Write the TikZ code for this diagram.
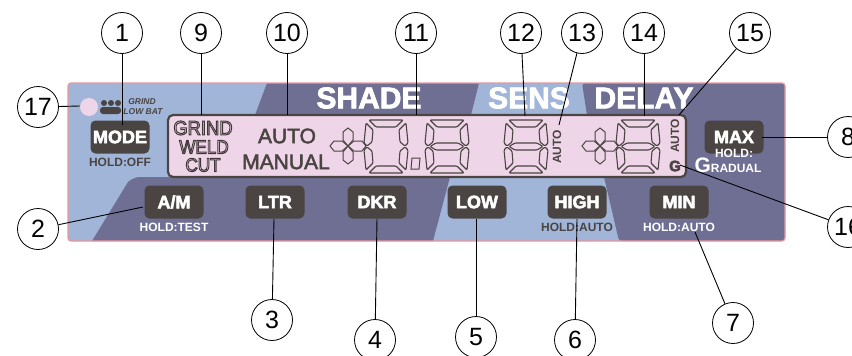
\documentclass[tikz,border=0pt]{standalone}
\usepackage{fontspec}
\setmainfont{Liberation Sans}
\definecolor{panelblue}{HTML}{A1B5D8}
\definecolor{paneldark}{HTML}{6F6F93}
\definecolor{lcdpink}{HTML}{EFD5E8}
\definecolor{keydark}{HTML}{4A4442}
\definecolor{rimpink}{HTML}{E9979C}
\newcommand{\fsize}[1]{\fontsize{#1}{#1}\selectfont}
\newcommand{\outl}[2]{\special{pdf:code 1 Tr #1 w 0.25 0.22 0.22 RG}#2\special{pdf:code 0 Tr 0 0 0 RG}}
\newcommand{\solid}[2]{\special{pdf:code 2 Tr #1 w 0.29 0.27 0.26 RG}#2\special{pdf:code 0 Tr 0 0 0 RG}}
\newcommand{\heavy}[2]{\special{pdf:code 2 Tr #1 w 1 1 1 RG}#2\special{pdf:code 0 Tr 0 0 0 RG}}
\newcommand{\sixsegs}{
  \draw (5,0) -- (39,0) -- (32,7) -- (12,7) -- cycle;
  \draw (2,3) -- (9,10) -- (8,22) -- (3,26) -- (0,23) -- cycle;
  \draw (42,3) -- (35,10) -- (36,22) -- (41,26) -- (44,23) -- cycle;
  \draw (3,27) -- (8,31) -- (9,43) -- (2,50) -- (0,30) -- cycle;
  \draw (41,27) -- (36,31) -- (35,43) -- (42,50) -- (44,30) -- cycle;
  \draw (5,53) -- (39,53) -- (32,46) -- (12,46) -- cycle;
}
\tikzset{
  x=1pt, y=-1pt,
  callout/.style={draw, circle, minimum size=41pt, inner sep=0pt, line width=0.8pt, font=\fsize{25}},
  leader/.style={line width=0.9pt},
  keybox/.style={fill=keydark, rounded corners=5pt, minimum width=59pt, minimum height=33pt, inner sep=0pt,
    text=white, font=\fsize{18}\bfseries},
  title/.style={text=white, inner sep=0pt, font=\fsize{30}\bfseries},
  holdtext/.style={inner sep=0pt, font=\fsize{12}\bfseries},
  lcdtext/.style={inner sep=0pt, text=keydark},
  zerodigit/.pic={\begin{scope}[draw=keydark, line width=1.1pt, rounded corners=1pt]\sixsegs\end{scope}},
  eightdigit/.pic={\begin{scope}[draw=keydark, line width=1.1pt, rounded corners=1pt]\sixsegs
    \draw (5,26.5) -- (11,23) -- (33,23) -- (39,26.5) -- (33,30) -- (11,30) -- cycle;\end{scope}},
  signmark/.pic={\foreach \rot in {0, 90, 180, 270} {
    \draw [rotate=\rot, draw=keydark, line width=1pt] (0,0) -- (6,-5) -- (14,-5) -- (18,0) -- (14,5) -- (6,5) -- cycle;
  }}
}
\begin{document}
\begin{tikzpicture}
  \useasboundingbox (0,0) rectangle (852,356);
  % panel
  \fill [panelblue, rounded corners=3pt] (68,83) rectangle (785,241);
  \fill [paneldark] (267,83) -- (255,115) -- (471,115) -- (479,83) -- cycle;
  \fill [paneldark, rounded corners=3pt] (582,83) -- (785,83) -- (785,241) -- (619,241) -- (604,177) -- (587,115) -- cycle;
  \fill [paneldark] (92,241) -- (128,182) [rounded corners=5pt] -- (135,177) [sharp corners] -- (450,177) -- (433,241) -- cycle;
  \draw [rimpink, line width=1.2pt, rounded corners=3pt] (68,83) rectangle (785,241);
  % lcd
  \draw [fill=lcdpink, draw=keydark, line width=2.2pt, rounded corners=5pt] (168,115) rectangle (686,177);
  \pic at (364,120) {zerodigit};
  \pic at (425,120) {eightdigit};
  \pic at (504,120) {eightdigit};
  \pic at (616,120) {eightdigit};
  \pic at (348,146) {signmark};
  \pic at (600,146) {signmark};
  \draw [keydark, line width=1pt] (412,158) -- (420,158) -- (419,169) -- (411,169) -- cycle;
  \node [lcdtext, font=\fsize{20}] (grind) at (203,128) {\scalebox{0.92}[1]{\outl{1}{GRIND}}};
  \node [lcdtext, font=\fsize{19}] (weld) at (204,147) {\scalebox{0.9}[1]{\outl{1}{WELD}}};
  \node [lcdtext, font=\fsize{19}] (cut) at (203,165) {\scalebox{0.9}[1]{\outl{1}{CUT}}};
  \node [lcdtext, font=\fsize{21}] (auto) at (287,136) {\solid{0.5}{AUTO}};
  \node [lcdtext, font=\fsize{21}] (manual) at (286,162) {\solid{0.5}{MANUAL}};
  \node [lcdtext, rotate=90, font=\fsize{12}\bfseries] (autoa) at (557,147) {AUTO};
  \node [lcdtext, rotate=90, font=\fsize{12}\bfseries] (autob) at (675,136) {AUTO};
  \node [lcdtext, font=\fsize{15}\bfseries] (gflag) at (675,166) {\solid{0.5}{G}};
  % titles
  \node [title] (shade) at (369,98) {\heavy{0.7}{SHADE}};
  \node [title] (sens) at (529,98) {\heavy{0.7}{SENS}};
  \node [title] (delay) at (644,98) {\heavy{0.7}{DELAY}};
  % keys
  \foreach \name/\x/\y/\txt in {mode/120/137/MODE, am/174/202/{A/M}, ltr/275/202/LTR, dkr/377/202/DKR,
      low/477/202/LOW, high/577/202/HIGH, min/679/202/MIN, max/734/137/MAX} {
    \node [keybox] (\name) at (\x,\y) {\heavy{0.5}{\txt}};
  }
  \node [holdtext, text=keydark] (holdoff) at (120,162) {HOLD:OFF};
  \node [holdtext, text=white] (holdtest) at (174,227) {HOLD:TEST};
  \node [holdtext, text=keydark] (holdhigh) at (577,227) {HOLD:AUTO};
  \node [holdtext, text=white] (holdmin) at (679,227) {HOLD:AUTO};
  \node [holdtext, text=white] (holdmax) at (734,153) {HOLD:};
  \node [holdtext, text=white, anchor=base] (gradual) at (728,172) {{\fsize{21}G}RADUAL};
  % grind and battery signs
  \fill [lcdpink] (89,107) circle [radius=9];
  \foreach \x in {104, 111, 118} {
    \fill [keydark] (\x,103) circle [radius=3];
  }
  \fill [keydark, rounded corners=3pt] (100,107) rectangle (121,114);
  \node [inner sep=0pt, text=keydark, font=\fsize{8.5}\bfseries\itshape] (grindsign) at (142,102) {GRIND};
  \node [inner sep=0pt, text=keydark, font=\fsize{8.5}\bfseries\itshape] (lowbat) at (143,112) {LOW BAT};
  % callouts
  \foreach \num/\x/\y in {1/122/33, 2/38/229, 3/272/320, 4/375/340, 5/476/337, 6/575/340, 7/733/323, 8/848/137,
      9/201/33, 10/287/33, 11/416/33, 12/521/33, 13/582/33, 14/644/33, 15/750/33, 16/848/227, 17/38/107} {
    \node [callout] (c\num) at (\x,\y) {\num};
  }
  \foreach \num/\x/\y in {1/122/125, 2/143/207, 3/274/219, 4/377/219, 5/476/219, 6/577/219, 7/695/232, 8/762/137,
      9/201/115, 10/287/115, 11/416/115, 12/525/116, 13/559/125, 14/644/116, 15/679/115, 16/680/165, 17/80/106} {
    \coordinate (e\num) at (\x,\y);
    \draw [leader] (c\num) -- (e\num);
  }
\end{tikzpicture}
\end{document}
